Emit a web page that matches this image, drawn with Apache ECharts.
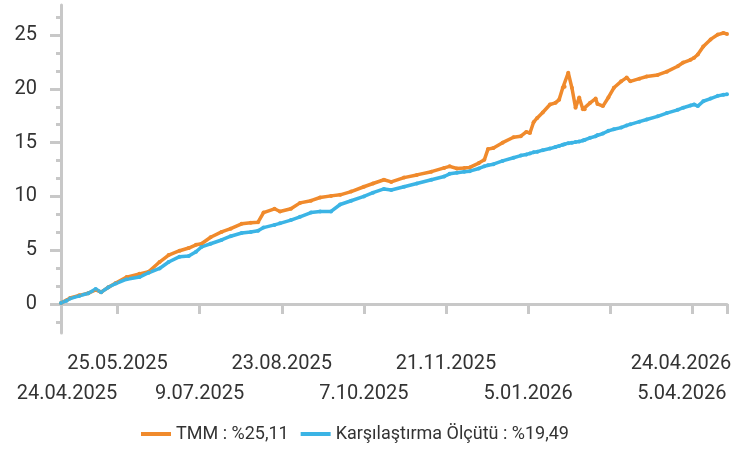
<!DOCTYPE html>
<html>
<head>
<meta charset="utf-8">
<script src="https://cdn.jsdelivr.net/npm/echarts@6/dist/echarts.min.js"></script>
<style>
  html, body { margin: 0; padding: 0; background: #fff; }
  #main { width: 741px; height: 453px; }
</style>
</head>
<body>
<div id="main"></div>
<script>
// veriler
var dates = ['2025-04-24','2025-04-27','2025-04-29','2025-05-04','2025-05-09','2025-05-13','2025-05-16','2025-05-20','2025-05-24','2025-05-30',
  '2025-06-06','2025-06-11','2025-06-17','2025-06-22','2025-06-28','2025-07-03','2025-07-07','2025-07-10','2025-07-15','2025-07-21',
  '2025-07-26','2025-08-01','2025-08-06','2025-08-10','2025-08-13','2025-08-19','2025-08-22','2025-08-28','2025-09-02','2025-09-08',
  '2025-09-13','2025-09-19','2025-09-24','2025-09-30','2025-10-07','2025-10-12','2025-10-18','2025-10-22','2025-10-29','2025-11-05',
  '2025-11-13','2025-11-20','2025-11-23','2025-11-27','2025-12-01','2025-12-04','2025-12-09','2025-12-12','2025-12-14','2025-12-17',
  '2025-12-22','2025-12-28','2026-01-01','2026-01-04','2026-01-06','2026-01-08','2026-01-10','2026-01-13','2026-01-17','2026-01-20',
  '2026-01-22','2026-01-24','2026-01-25','2026-01-27','2026-01-29','2026-01-31','2026-02-02','2026-02-04','2026-02-05','2026-02-08',
  '2026-02-11','2026-02-12','2026-02-15','2026-02-18','2026-02-21','2026-02-25','2026-02-28','2026-03-02','2026-03-07','2026-03-11',
  '2026-03-17','2026-03-22','2026-03-28','2026-03-31','2026-04-04','2026-04-06','2026-04-08','2026-04-11','2026-04-15','2026-04-19',
  '2026-04-22','2026-04-24'];

var tmmValues = [0.1,0.35,0.55,0.8,1.0,1.3,1.1,1.55,1.95,2.5,
  2.8,3.0,3.9,4.55,4.95,5.2,5.5,5.6,6.2,6.7,
  7.0,7.45,7.55,7.6,8.5,8.85,8.6,8.85,9.4,9.6,
  9.9,10.05,10.15,10.45,10.9,11.2,11.55,11.35,11.75,12.0,
  12.3,12.65,12.8,12.6,12.65,12.7,13.1,13.4,14.4,14.5,
  15.0,15.5,15.6,16.0,15.9,16.9,17.3,17.8,18.55,18.7,
  19.0,20.1,20.2,21.5,20.1,18.25,19.2,18.1,18.1,18.7,
  19.1,18.6,18.4,19.2,20.1,20.7,21.05,20.7,20.95,21.15,
  21.3,21.6,22.1,22.45,22.7,22.9,23.2,23.95,24.6,25.05,25.2,25.11];

var benchValues = [0.1,0.3,0.5,0.75,1.0,1.4,1.1,1.55,1.9,2.3,
  2.5,2.9,3.3,3.9,4.4,4.45,4.85,5.3,5.6,5.95,
  6.3,6.6,6.7,6.8,7.1,7.35,7.5,7.8,8.1,8.5,
  8.6,8.6,9.25,9.6,10.0,10.35,10.7,10.6,10.9,11.2,
  11.55,11.85,12.1,12.2,12.3,12.35,12.6,12.8,12.9,13.0,
  13.3,13.6,13.8,13.9,14.0,14.1,14.15,14.3,14.45,14.6,
  14.7,14.8,14.85,14.95,15.0,15.05,15.1,15.2,15.25,15.45,
  15.6,15.7,15.85,16.1,16.25,16.4,16.6,16.7,16.95,17.15,
  17.45,17.75,18.05,18.25,18.45,18.55,18.4,18.85,19.1,19.35,19.45,19.49];

var seriesNames = ['TMM : %25,11', 'Karşılaştırma Ölçütü : %19,49'];

// x ekseni: tik tarihleri ve iki satir etiket
var tickDates = ['2025-04-24','2025-05-25','2025-07-09','2025-08-23','2025-10-07','2025-11-21','2026-01-05','2026-02-19','2026-04-05','2026-04-24'];
var row1Dates = ['2025-05-25','2025-08-23','2025-11-21','2026-04-24'];
var row1Labels = ['25.05.2025','23.08.2025','21.11.2025','24.04.2026'];
var row2Dates = ['2025-04-24','2025-07-09','2025-10-07','2026-01-05','2026-04-05'];
var row2Labels = ['24.04.2025','9.07.2025','7.10.2025','5.01.2026','5.04.2026'];

// y ekseni
var yMajor = [0,5,10,15,20,25];
var yMinor = [-5/3,5/3,10/3,20/3,25/3,35/3,40/3,50/3,55/3,65/3,70/3,80/3];

function ts(d) { // tarih -> zaman damgasi
  var p = d.split('-');
  return new Date(+p[0], +p[1] - 1, +p[2]).getTime();
}

var tickTs = tickDates.map(ts);
var row1Ts = row1Dates.map(ts);
var row2Ts = row2Dates.map(ts);

function labelFn(tsList, labels) { // kenardaki etiketleri iceri kaydir
  return function (v) {
    var i = tsList.indexOf(v);
    if (i < 0) return '';
    var t = labels[i];
    if (t === '24.04.2025') return '{first|' + t + '}';
    if (t === '5.04.2026') return '{pre|' + t + '}';
    if (t === '24.04.2026') return '{last|' + t + '}';
    return '{c|' + t + '}';
  };
}

function pairs(vals) {
  var r = [];
  for (var i = 0; i < dates.length; i++) r.push([ts(dates[i]), vals[i]]);
  return r;
}

var axisGrey = '#c8c8c8';
var font = 'Roboto';
var labelRich = {
  c: { fontFamily: font, fontSize: 20, color: '#333' },
  first: { fontFamily: font, fontSize: 20, color: '#333', padding: [0, 0, 0, 12] },
  pre: { fontFamily: font, fontSize: 20, color: '#333', padding: [0, 21, 0, 0] },
  last: { fontFamily: font, fontSize: 20, color: '#333', padding: [0, 92, 0, 0] }
};

var chart = echarts.init(document.getElementById('main'));
var option = {
  animation: false,
  grid: { left: 61, right: 14, top: 5, bottom: 120, containLabel: false, outerBoundsMode: 'none' },
  legend: {
    left: 136,
    top: 420,
    itemWidth: 30,
    itemHeight: 4,
    itemGap: 12,
    icon: 'rect',
    textStyle: { fontFamily: font, fontSize: 18, color: '#333' },
    data: seriesNames
  },
  xAxis: [{
    type: 'value',
    position: 'bottom',
    min: ts('2025-04-24'),
    max: ts('2026-04-24'),
    splitLine: { show: false },
    axisLine: { lineStyle: { color: axisGrey, width: 3 } },
    axisTick: { show: true, customValues: tickTs, length: 10, lineStyle: { color: axisGrey, width: 3 } },
    axisLabel: {
      customValues: row1Ts,
      showMinLabel: true,
      showMaxLabel: true,
      hideOverlap: false,
      margin: 21,
      formatter: labelFn(row1Ts, row1Labels),
      rich: labelRich
    }
  }, {
    type: 'value',
    position: 'bottom',
    min: ts('2025-04-24'),
    max: ts('2026-04-24'),
    splitLine: { show: false },
    axisLine: { show: false },
    axisTick: { show: false },
    axisLabel: {
      customValues: row2Ts,
      showMinLabel: true,
      showMaxLabel: true,
      hideOverlap: false,
      margin: 51,
      formatter: labelFn(row2Ts, row2Labels),
      rich: labelRich
    }
  }],
  yAxis: [{
    type: 'value',
    position: 'left',
    min: -2.7,
    max: 27.8,
    splitLine: { show: false },
    axisLine: { show: true, lineStyle: { color: axisGrey, width: 3 } },
    axisTick: { show: true, customValues: yMajor, length: 11, lineStyle: { color: axisGrey, width: 3 } },
    axisLabel: { customValues: yMajor, margin: 24, fontFamily: font, fontSize: 20, color: '#333' }
  }, {
    type: 'value',
    position: 'left',
    min: -2.7,
    max: 27.8,
    splitLine: { show: false },
    axisLine: { show: false },
    axisTick: { show: true, customValues: yMinor, length: 5, lineStyle: { color: axisGrey, width: 3 } },
    axisLabel: { show: false }
  }],
  series: [{
    name: seriesNames[0],
    type: 'line',
    data: pairs(tmmValues),
    symbol: 'circle',
    symbolSize: 4,
    color: '#f08a2c',
    lineStyle: { width: 3.5, color: '#f08a2c' },
    itemStyle: { color: '#f08a2c' }
  }, {
    name: seriesNames[1],
    type: 'line',
    data: pairs(benchValues),
    symbol: 'circle',
    symbolSize: 4,
    color: '#3bb4e5',
    lineStyle: { width: 3.5, color: '#3bb4e5' },
    itemStyle: { color: '#3bb4e5' }
  }]
};
chart.setOption(option);
</script>
</body>
</html>
